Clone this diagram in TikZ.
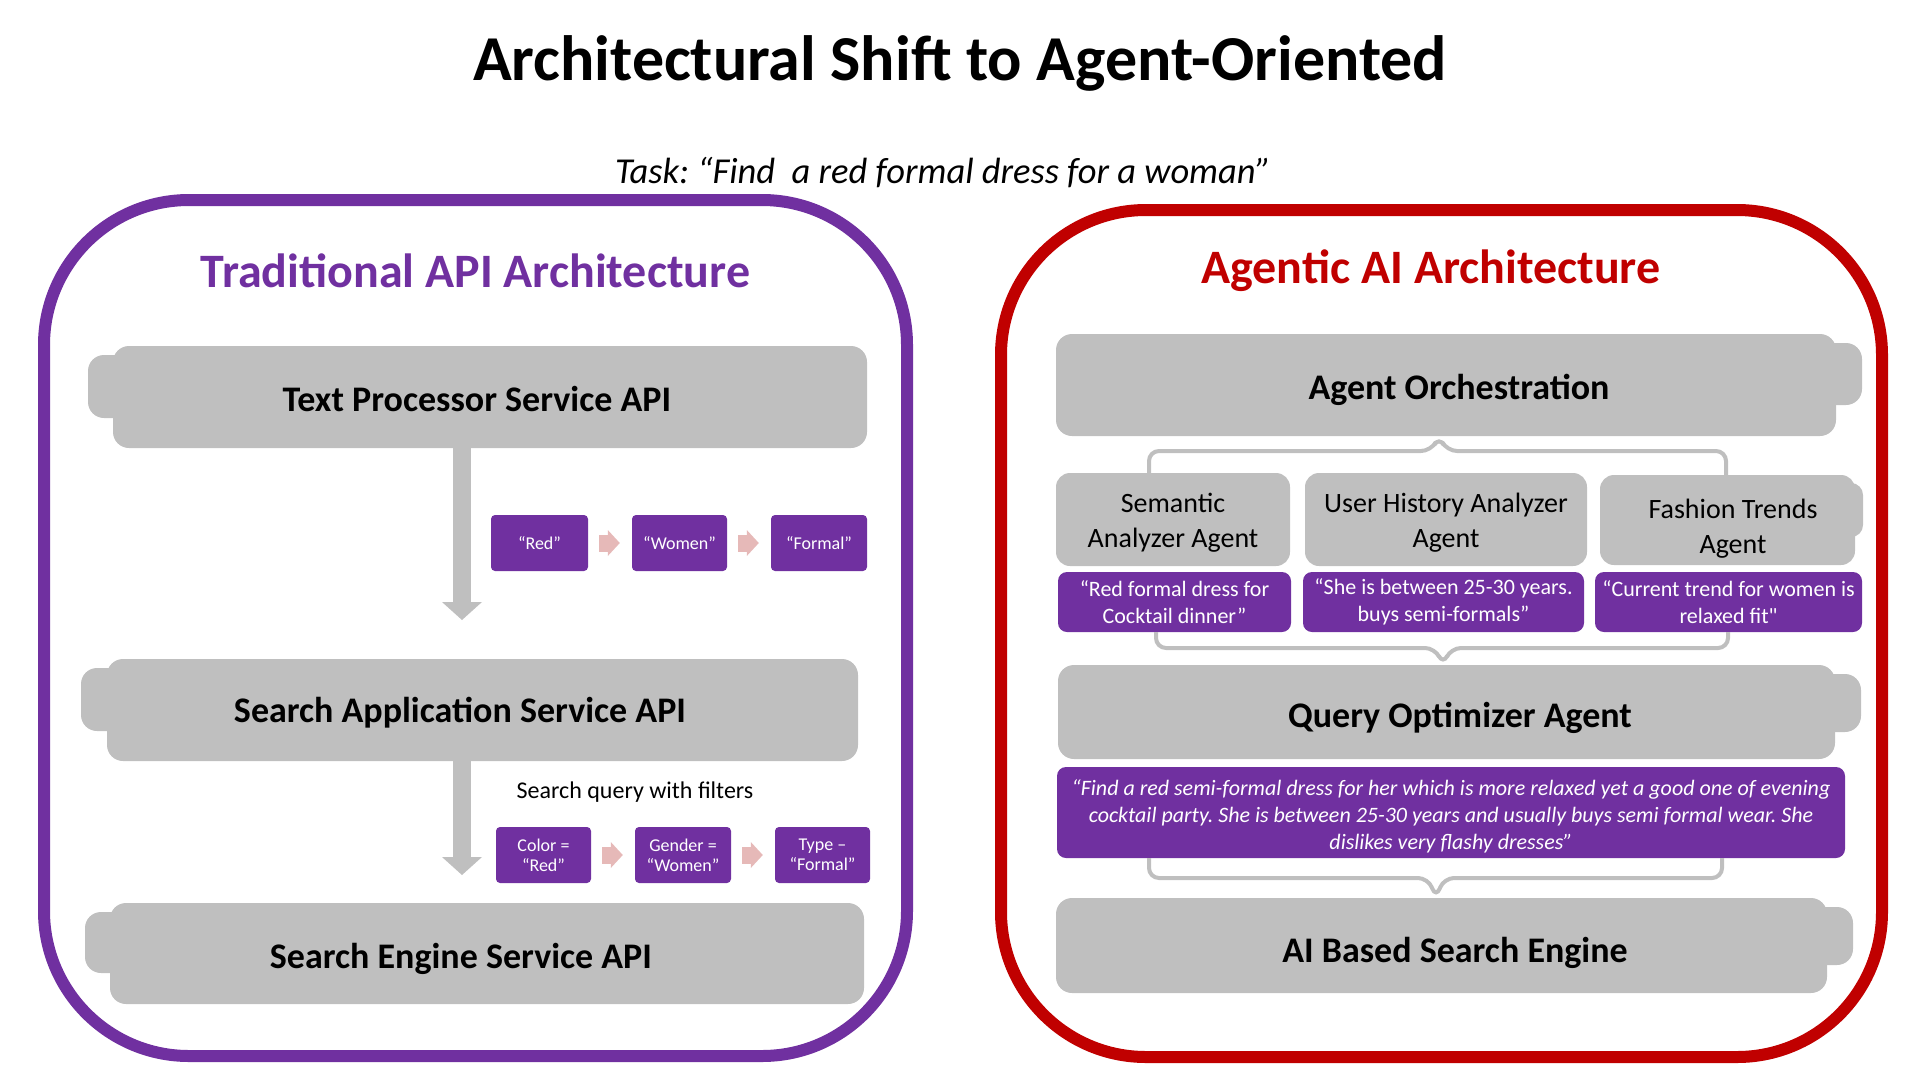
\documentclass[tikz,border=0pt]{standalone}
\usepackage{fontspec}
\setmainfont{Carlito}
\newfontfamily\nomapfont[Ligatures=TeXOff]{Carlito}
\usetikzlibrary{arrows.meta,calc}
\definecolor{gboxc}{HTML}{BFBFBF}
\definecolor{purp}{HTML}{7030A0}
\definecolor{redc}{HTML}{C00000}
\definecolor{pinkc}{HTML}{E6B9B8}
\newcommand{\fsz}[2]{\fontsize{#1pt}{#2pt}\selectfont}
\frenchspacing
\begin{document}
\begin{tikzpicture}[x=1pt,y=-1pt,
  frame/.style={line width=12pt, rounded corners=145pt, inner sep=0pt, fill=none},
  gbox/.style={fill=gboxc, rounded corners=16pt, inner sep=0pt},
  tab/.style={fill=gboxc, rounded corners=16pt},
  btext/.style={font=\fsz{36}{43}\bfseries, anchor=base, text=black},
  agent/.style={fill=gboxc, rounded corners=14pt, inner sep=0pt, align=center, font=\fsz{28}{35}, text=black},
  atext/.style={align=center, font=\fsz{28}{35}, text=black, inner sep=0pt},
  pbox/.style={fill=purp, rounded corners=4pt, inner sep=0pt, align=center, text=white, font=\fsz{18}{20}},
  obox/.style={fill=purp, rounded corners=9pt, inner sep=0pt, align=center, text=white, font=\fsz{22}{27}},
  garrow/.style={draw=gboxc, line width=18pt, -{Triangle[width=40pt,length=18pt,line width=0pt]}},
  parrow/.style={draw=pinkc, line width=17pt, -{Triangle[width=26pt,length=12pt,line width=0pt]}},
  bracket/.style={draw=gboxc, line width=4pt, rounded corners=10pt}
]
\useasboundingbox (0,0) rectangle (1920,1080);

% title
\node[font=\fsz{64}{76}\bfseries, anchor=base] (title) at (960,80) {Architectural Shift to Agent-Oriented};
\node[font=\fsz{36.5}{44}\itshape, anchor=base] (task) at (943,183) {Task: “Find\ \ a red formal dress for a woman”};

% frames
\node[frame, draw=purp, minimum width=863pt, minimum height=856pt] (frameL) at (475.5,628) {};
\node[frame, draw=redc, minimum width=881pt, minimum height=847pt] (frameR) at (1441.5,633.5) {};

\node[font=\fsz{48}{57}\bfseries, text=purp, anchor=base] (headL) at (475.5,287) {Traditional API Architecture};
\node[font=\fsz{48}{57}\bfseries, text=redc, anchor=base] (headR) at (1431,283) {Agentic AI Architecture};

% ---------- left side ----------
\fill[tab] (88,355) rectangle (400,418);
\node[gbox, minimum width=754pt, minimum height=102pt] (tp) at (490,397) {};
\node[btext] (tpt) at (477,411) {Text Processor Service API};

\fill[tab] (81,668) rectangle (400,731);
\node[gbox, minimum width=751pt, minimum height=102pt] (sap) at (482.5,710) {};
\node[btext] (sapt) at (460,722) {Search Application Service API};

\fill[tab] (85,912) rectangle (400,973);
\node[gbox, minimum width=754pt, minimum height=101pt] (se) at (487,953.5) {};
\node[btext] (set) at (461,968) {Search Engine Service API};

\coordinate (ax) at (462,0);
\coordinate (a1end) at (462,620);
\coordinate (a2end) at (462,875);
\draw[garrow] (tp.south -| ax) -- (a1end);
\draw[garrow] (sap.south -| ax) -- (a2end);

\node[pbox, minimum width=97pt, minimum height=56pt] (r1) at (539.5,543) {“Red”};
\node[pbox, minimum width=95pt, minimum height=56pt] (r2) at (679.5,543) {“Women”};
\node[pbox, minimum width=96pt, minimum height=56pt] (r3) at (819,543) {“Formal”};
\draw[parrow, shorten <=11pt, shorten >=12pt] (r1) -- (r2);
\draw[parrow, shorten <=11pt, shorten >=12pt] (r2) -- (r3);

\node[font=\fsz{24}{29}, anchor=base] (sq) at (635,798) {Search query with filters};

\node[pbox, minimum width=95pt, minimum height=56pt] (f1) at (543.5,855) {Color =\\“Red”};
\node[pbox, minimum width=96pt, minimum height=56pt] (f2) at (683,855) {Gender =\\“Women”};
\node[pbox, minimum width=95pt, minimum height=56pt] (f3) at (822.5,855) {Type –\\“Formal”};
\draw[parrow, shorten <=11pt, shorten >=12pt] (f1) -- (f2);
\draw[parrow, shorten <=11pt, shorten >=12pt] (f2) -- (f3);

% ---------- right side ----------
\fill[tab] (1500,343) rectangle (1862,405);
\node[gbox, minimum width=780pt, minimum height=102pt] (ao) at (1446,385) {};
\node[btext] (aot) at (1459,399) {Agent Orchestration};

\node[agent, minimum width=234pt, minimum height=93pt] (ag1) at (1173,519.5) {};
\node[atext] (ag1t) at (1173,523) {Semantic\\Analyzer Agent};
\node[agent, minimum width=282pt, minimum height=93pt] (ag2) at (1446,519.5) {};
\node[atext] (ag2t) at (1446,523) {User History Analyzer\\Agent};
\fill[tab, rounded corners=12pt] (1700,483) rectangle (1863,537);
\node[agent, minimum width=255pt, minimum height=90pt] (ag3) at (1727.5,520) {};
\node[atext] (ag3t) at (1733,529) {Fashion Trends\\Agent};

\node[obox, minimum width=233pt, minimum height=60pt] (p1) at (1174.5,602) {“Red formal dress for\\Cocktail dinner”};
\node[obox, minimum width=281pt, minimum height=60pt] (p2) at (1443.5,602) {“She is between 25-30 years.\\buys semi-formals”};
\node[obox, minimum width=267pt, minimum height=60pt] (p3) at (1728.5,602) {“Current trend for women is\\relaxed fit{\nomapfont "}};

\fill[tab] (1500,674) rectangle (1861,732);
\node[gbox, minimum width=777pt, minimum height=94pt] (qo) at (1446.5,712) {};
\node[btext] (qot) at (1460,727) {Query Optimizer Agent};

\node[obox, minimum width=788pt, minimum height=91pt] (lp) at (1451,812.5) {};
\node[font=\fsz{22}{27}\itshape, text=white, align=center, inner sep=0pt] (lpt) at (1451,816)
 {“Find a red semi-formal dress for her which is more relaxed yet a good one of evening\\cocktail party. She is between 25-30 years and usually buys semi formal wear. She\\dislikes very flashy dresses”};

\fill[tab] (1500,907) rectangle (1853,965);
\node[gbox, minimum width=771pt, minimum height=95pt] (ai) at (1441.5,945.5) {};
\node[btext] (ait) at (1455,962) {AI Based Search Engine};

% brackets
\coordinate (b1L) at (1149,451);
\coordinate (b1R) at (1726,451);
\coordinate (b1P) at (1439,451);
\draw[bracket] (ag1.north -| b1L) -- (b1L) -- ($(b1P)+(-8,0)$) -- (ao.south -| b1P) -- ($(b1P)+(8,0)$) -- (b1R) -- (ag3.north -| b1R);

\coordinate (b2L) at (1156,648);
\coordinate (b2R) at (1728,648);
\coordinate (b2P) at (1443,648);
\draw[bracket] (p1.south -| b2L) -- (b2L) -- ($(b2P)+(-8,0)$) -- (qo.north -| b2P) -- ($(b2P)+(8,0)$) -- (b2R) -- (p3.south -| b2R);

\coordinate (b3L) at (1149,878);
\coordinate (b3R) at (1722,878);
\coordinate (b3P) at (1436,878);
\draw[bracket] (lp.south -| b3L) -- (b3L) -- ($(b3P)+(-8,0)$) -- (ai.north -| b3P) -- ($(b3P)+(8,0)$) -- (b3R) -- (lp.south -| b3R);
\end{tikzpicture}
\end{document}
